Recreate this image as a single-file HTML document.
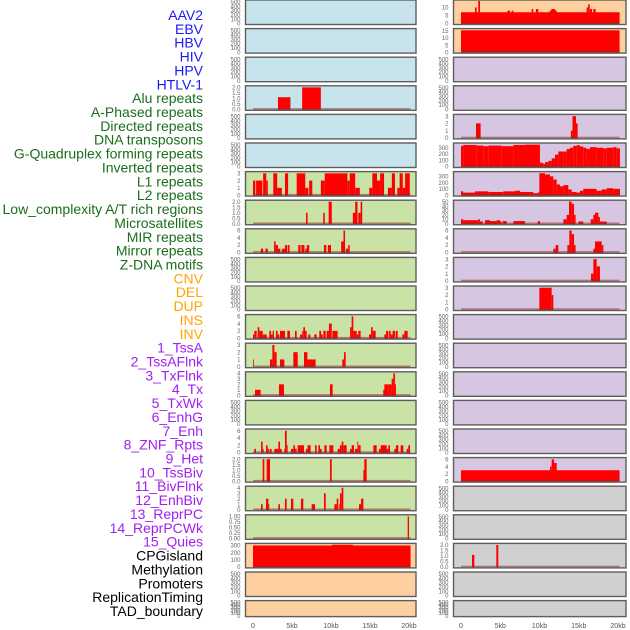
<!DOCTYPE html>
<html><head><meta charset="utf-8">
<style>
html,body{margin:0;padding:0;background:#fff;}
svg{display:block;font-family:"Liberation Sans",sans-serif;}
</style></head>
<body>
<svg id="chart" width="630" height="630" viewBox="0 0 630 630" xmlns="http://www.w3.org/2000/svg"></svg>
<script>
// ---------- labels ----------
const trackLabels = ["AAV2","EBV","HBV","HIV","HPV","HTLV-1","Alu repeats","A-Phased repeats","Directed repeats","DNA transposons","G-Quadruplex forming repeats","Inverted repeats","L1 repeats","L2 repeats","Low_complexity A/T rich regions","Microsatellites","MIR repeats","Mirror repeats","Z-DNA motifs","CNV","DEL","DUP","INS","INV","1_TssA","2_TssAFlnk","3_TxFlnk","4_Tx","5_TxWk","6_EnhG","7_Enh","8_ZNF_Rpts","9_Het","10_TssBiv","11_BivFlnk","12_EnhBiv","13_ReprPC","14_ReprPCWk","15_Quies","CPGisland","Methylation","Promoters","ReplicationTiming","TAD_boundary"];
const labelGroups = [6,13,5,15,5];
const groupColors = ["#1a1af5","#1a6e1a","#ffa500","#a020f0","#000000"];
const xTickLabels = ["0","5kb","10kb","15kb","20kb"];
const xTickValues = [0,5,10,15,20];

// ---------- data: [startKb, endKb, value] ----------
const aluBars = [[3.2,4.8,1.1],[6.3,8.7,2]];
const l1Bars = [[0,0.3,2],[0.4,1.2,2],[1.3,1.7,3],[1.7,1.9,2],[2.6,3.1,3],[3.1,3.7,1],[4.1,4.5,3],[5.6,6.7,3],[6.7,7.1,1],[7.2,7.6,2],[8.7,9.2,2],[9.2,12.1,3],[12.1,12.4,2],[12.4,13.1,3],[13.1,13.7,1],[14.9,15.3,1],[15.3,15.9,3],[15.9,16.3,2],[16.3,16.8,3],[17.3,17.8,1],[17.8,18.2,3],[18.5,18.8,1],[18.8,19.2,3],[19.2,19.5,1],[19.5,20.1,3]];
const l2Bars = [[6.8,7.0,1],[9.0,9.2,1],[9.7,10.1,2],[12.8,13.2,1],[13.1,13.4,2],[13.5,13.8,1],[13.8,14.0,2]];
const lowCompBars = [[1.0,1.3,1],[1.6,1.9,1],[2.7,2.9,3],[2.9,3.2,2],[3.2,3.5,1],[3.7,4.1,1],[4.1,4.4,2],[4.5,4.7,2],[5.8,6.1,2],[6.2,6.6,2],[6.7,6.9,1],[6.9,7.2,2],[9.1,9.4,2],[9.6,10.0,2],[11.3,11.6,3],[11.6,11.8,6],[11.9,12.2,1],[12.2,12.4,2]];
const row12Bars = [[0,0.17,1],[0.17,0.47,2],[0.6,0.81,3],[0.81,1.03,2],[1.03,1.24,2],[1.24,1.75,1],[2.09,2.31,2],[2.31,2.52,1],[2.52,2.69,2],[2.95,3.16,2],[3.16,3.38,1],[3.46,4.1,2],[4.4,4.74,2],[5.38,5.6,2],[6.03,6.32,1],[6.32,6.45,2],[6.45,6.67,3],[6.67,6.88,2],[7.09,7.35,1],[7.86,8.16,1],[8.5,8.72,2],[8.72,8.93,1],[9.02,9.32,2],[9.44,9.74,2],[9.74,10.09,4],[10.17,10.85,2],[12.44,12.65,3],[12.65,12.86,6],[12.86,13.29,2],[13.29,13.5,1],[13.5,13.8,2],[14.87,15.13,1],[15.13,15.34,3],[15.34,15.73,2],[16.84,17.14,1],[17.05,17.35,2],[17.44,17.65,2],[17.65,17.9,1],[17.9,18.2,2],[18.29,18.55,2],[19.15,19.4,1],[19.4,19.83,2]];
const row13Bars = [[0,0.1,1],[2.18,2.48,1],[2.48,2.74,3],[2.74,3.03,2],[3.46,4.02,1],[5.17,5.73,2],[6.54,6.97,2],[6.97,8.03,1],[11.45,11.67,1],[11.67,11.88,2]];
const row14Bars = [[0.26,0.98,1],[3.33,3.97,2],[9.87,10.21,2],[16.7,17.1,1],[16.84,17.35,2],[17.35,17.78,2],[17.78,17.99,3],[17.99,18.2,4],[18.2,18.33,2]];
const row16Bars = [[0.17,0.38,1],[1.03,1.24,3],[1.24,1.37,1],[1.67,1.88,2],[1.88,2.09,1],[2.18,2.39,1],[2.74,3.25,1],[3.25,3.46,3],[3.46,3.68,1],[4.02,4.19,1],[4.1,4.32,6],[4.32,4.44,2],[4.87,5.17,1],[5.17,5.38,2],[5.38,5.6,1],[5.73,6.54,2],[6.79,7.0,1],[7.0,7.39,2],[7.95,8.16,2],[8.38,8.59,2],[8.59,8.8,1],[9.15,9.44,2],[9.79,10.3,2],[10.85,11.15,1],[11.15,11.37,2],[11.37,11.58,3],[11.58,12.0,2],[12.44,12.65,1],[12.65,12.95,2],[13.08,13.38,1],[13.38,13.5,3],[13.5,13.8,2],[15.43,15.85,2],[16.15,16.37,1],[16.37,17.14,2],[17.14,17.35,1],[17.35,17.56,2],[18.12,18.33,1],[18.33,18.63,2],[18.93,19.27,2],[19.7,19.91,1],[19.91,20.13,2]];
const row17Bars = [[1.24,1.45,2],[1.75,2.18,2],[9.87,10.09,2],[14.15,14.36,1],[14.27,14.57,2]];
const row18Bars = [[1.03,1.24,1],[1.67,1.97,2],[1.97,2.09,1],[3.25,3.46,1],[4.1,4.32,2],[4.87,5.17,2],[6.15,6.45,2],[7.52,7.95,1],[9.1,9.32,3],[10.43,10.73,1],[10.73,10.94,2],[11.07,11.24,1],[11.15,11.37,3],[11.37,11.58,4],[13.59,13.85,1],[13.85,14.15,2]];
const row19Bars = [[19.83,20.0,1]];
const cpgBars = [[0,20.2,300],[10.1,12.8,310]];
const aav2Bars = [[0,20.2,7],[1.78,2.0,10],[2.2,2.42,14],[5.9,6.24,8],[6.45,6.67,8],[9.0,9.2,9],[9.55,9.85,9],[11.3,12.2,8],[11.5,12.0,9],[16.0,16.2,10],[16.2,16.4,12],[16.4,16.7,9],[16.86,17.15,9]];
const ebvBars = [[0,20.2,15.5]];
const r5Bars = [[1.91,2.5,2],[14.0,14.2,1],[14.2,14.65,3],[14.65,14.86,2]];
const gquadBars = [[0,0.3,330],[0.3,2.0,345],[2.0,2.85,335],[2.85,3.48,325],[3.48,5.18,335],[5.18,6.67,325],[6.67,8.15,345],[8.15,10.06,350],[10.06,10.49,60],[10.49,10.7,40],[10.7,11.12,70],[11.12,11.55,90],[11.55,11.97,130],[11.97,12.4,190],[12.4,13.04,240],[13.04,13.46,240],[13.46,13.88,280],[13.88,14.3,300],[14.3,14.73,330],[14.73,15.16,340],[15.16,15.58,320],[15.58,16.0,300],[16.0,16.43,280],[16.43,17.28,310],[17.28,18.13,300],[18.13,18.56,290],[18.56,19.4,300],[19.4,19.83,310],[19.83,20.25,290]];
const r7Bars = [[0,0.3,60],[0.3,1.78,40],[1.78,3.48,60],[3.48,5.39,50],[5.39,6.88,60],[6.88,7.52,70],[7.52,9.21,50],[9.21,9.85,30],[9.85,9.98,50],[9.98,10.7,350],[10.7,11.34,330],[11.34,11.76,300],[11.76,12.19,250],[12.19,12.61,170],[12.61,13.04,140],[13.04,13.67,160],[13.67,14.1,90],[14.1,14.73,50],[14.73,15.16,40],[15.16,15.58,70],[15.58,17.28,100],[17.28,17.92,70],[17.92,18.56,90],[18.56,19.4,110],[19.4,20.25,100]];
const r8Bars = [[0,0.3,10],[0.3,2.2,8],[2.2,2.42,10],[2.42,2.76,5],[3.06,3.69,8],[3.69,4.54,6],[4.54,4.97,8],[4.97,5.18,5],[5.31,5.82,6],[6.67,8.15,6],[9.77,10.06,6],[13.04,13.46,10],[13.46,13.76,20],[13.76,14.1,50],[14.1,14.4,45],[14.4,14.6,20],[14.95,15.58,5],[16.52,16.86,10],[16.86,17.07,20],[17.07,17.5,25],[17.5,17.7,15],[17.7,18.56,5]];
const r9Bars = [[11.76,12.06,1],[12.06,12.4,2],[13.55,13.8,2],[13.8,14.1,6],[14.1,14.4,5],[14.4,14.6,2],[16.86,17.07,1],[17.07,17.92,3],[17.92,18.13,2]];
const r10Bars = [[16.56,16.86,1],[16.86,17.28,3],[17.28,17.7,2]];
const r11Bars = [[9.98,11.55,3],[11.55,11.76,2]];
const r17Bars = [[0,20.2,3],[11.34,11.55,4],[11.55,11.85,6],[11.85,12.19,5]];
const r20Bars = [[1.4,1.7,1.1],[4.5,4.75,2]];

// per-panel config: [col,row,fill,ymax,ticks,bars]
const B="#c7e4ec",G="#c9e2a5",O="#fecf9f",P="#d6c6e2",Y="#d0d0d0";
const emptyTicks=[0,100,200,300,400,500];
const panels = [
 [0,0,B,520,emptyTicks,null],[0,1,B,520,emptyTicks,null],[0,2,B,520,emptyTicks,null],
 [0,3,B,2.05,[0,0.5,1,1.5,2],aluBars],[0,4,B,520,emptyTicks,null],[0,5,B,520,emptyTicks,null],
 [0,6,G,3.1,[0,1,2,3],l1Bars],[0,7,G,2.05,[0,0.5,1,1.5,2],l2Bars],[0,8,G,6.2,[0,2,4,6],lowCompBars],
 [0,9,G,520,emptyTicks,null],[0,10,G,520,emptyTicks,null],[0,11,G,6.2,[0,2,4,6],row12Bars],
 [0,12,G,3.1,[0,1,2,3],row13Bars],[0,13,G,4.1,[0,1,2,3,4],row14Bars],[0,14,G,520,emptyTicks,null],
 [0,15,G,6.2,[0,2,4,6],row16Bars],[0,16,G,2.05,[0,0.5,1,1.5,2],row17Bars],[0,17,G,4.1,[0,1,2,3,4],row18Bars],
 [0,18,G,1.03,[0,0.25,0.5,0.75,1],row19Bars],[0,19,O,315,[0,100,200,300],cpgBars],
 [0,20,O,520,emptyTicks,null],[0,21,O,520,emptyTicks,null],
 [1,0,O,14,[0,5,10],aav2Bars],[1,1,O,16,[0,5,10,15],ebvBars],[1,2,P,520,emptyTicks,null],[1,3,P,520,emptyTicks,null],
 [1,4,P,3.1,[0,1,2,3],r5Bars],[1,5,P,360,[0,100,200,300],gquadBars],[1,6,P,360,[0,100,200,300],r7Bars],
 [1,7,P,51,[0,10,20,30,40,50],r8Bars],[1,8,P,6.2,[0,2,4,6],r9Bars],[1,9,P,3.1,[0,1,2,3],r10Bars],
 [1,10,P,3.1,[0,1,2,3],r11Bars],[1,11,P,520,emptyTicks,null],[1,12,P,520,emptyTicks,null],
 [1,13,P,520,emptyTicks,null],[1,14,P,520,emptyTicks,null],[1,15,P,520,emptyTicks,null],
 [1,16,P,6.2,[0,2,4,6],r17Bars],[1,17,Y,520,emptyTicks,null],[1,18,Y,520,emptyTicks,null],
 [1,19,Y,2.05,[0,0.5,1,1.5,2],r20Bars],[1,20,Y,520,emptyTicks,null],[1,21,Y,520,emptyTicks,null]
];

const NS="http://www.w3.org/2000/svg";
const svg=document.getElementById('chart');
function mk(tag,attrs,parent){const e=document.createElementNS(NS,tag);for(const k in attrs)e.setAttribute(k,attrs[k]);(parent||svg).appendChild(e);return e;}

// labels
let li=0;
labelGroups.forEach((n,g)=>{for(let k=0;k<n;k++){
  const t=mk('text',{x:203,y:15+li*13.86+5,'text-anchor':'end','font-size':'14',fill:groupColors[g]});
  t.textContent=trackLabels[li];
  
  
  li++;}});

const colX=[[245.5,416],[453.5,626]];
const x0=[253,461], kbScale=[7.8,7.85];
function xScale(col,kb){return x0[col]+kb*kbScale[col];}
function rowTop(r){return r*28.6;}
function rowH(r){return r===21?16:24.5;}
function decimalsFor(ticks){let d=0;ticks.forEach(t=>{const s=String(t);const i=s.indexOf('.');if(i>=0)d=Math.max(d,s.length-i-1);});return d;}

panels.forEach(p=>{
  const [col,row,fill,ymax,ticks,bars]=p;
  const top=rowTop(row),h=rowH(row),bot=top+h;
  const g=mk('g',{});
  
  
  const L=colX[col][0],R=colX[col][1];
  mk('rect',{x:L,y:top,width:R-L,height:h,fill:fill},g);
  const yS=v=>bot-1-(v/ymax)*(h-2);
  if(bars){
    bars.forEach(b=>{
      const x1=xScale(col,b[0]),x2=xScale(col,b[1]),yy=yS(b[2]);
      const r=mk('rect',{x:x1,y:yy,width:Math.max(0.8,x2-x1),height:bot-yy,fill:'#ff0000'},g);
      
      
    });
    mk('rect',{x:xScale(col,0),y:bot-2.2,width:xScale(col,20.2)-xScale(col,0),height:1.6,fill:'rgba(150,40,40,0.55)'},g);
  }
  mk('rect',{x:L,y:top,width:R-L,height:h,fill:'none',stroke:'#5e5e5e','stroke-width':'1.4'},g);
  const dec=decimalsFor(ticks);
  ticks.forEach(t=>{
    const tt=mk('text',{x:L-5,y:yS(t)+2.2,'text-anchor':'end','font-size':'6',fill:'#666'},g);
    tt.textContent=t.toFixed(dec);
    
    
  });
});

// x axes
[0,1].forEach(col=>{
  xTickValues.forEach((v,i)=>{
    const t=mk('text',{x:xScale(col,v),y:628,'text-anchor':'middle','font-size':'7',fill:'#555'});
    t.textContent=xTickLabels[i];
    
    
  });
});
</script>
</body></html>
